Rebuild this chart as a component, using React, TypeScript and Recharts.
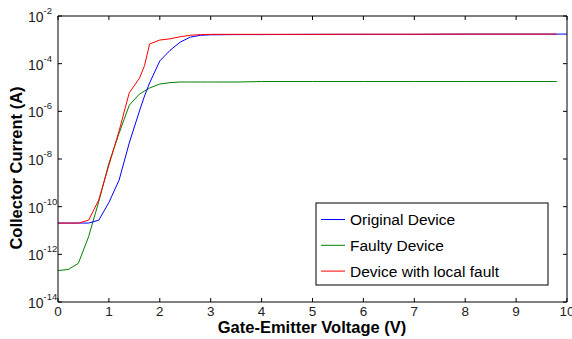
import React from 'react';
import { LineChart, Line, XAxis, YAxis } from 'recharts';

// gate-emitter voltage (V)
const voltage = [0, 0.2, 0.4, 0.6, 0.8, 1.0, 1.2, 1.4, 1.6, 1.7, 1.8, 2.0, 2.2, 2.4, 2.6, 2.8, 3.0, 3.5, 4, 5, 6, 7, 8, 9, 9.8, 10];

// collector current (A)
const originalDevice = [
  2.05e-11, 2.05e-11, 2.05e-11, 2.05e-11, 2.7e-11, 1.5e-10, 1.3e-9, 4.7e-8, 1.03e-6, 4.4e-6, 1.55e-5, 1.3e-4, 3.6e-4,
  8.0e-4, 1.3e-3, 1.55e-3, 1.62e-3, 1.66e-3, 1.66e-3, 1.7e-3, 1.7e-3, 1.7e-3, 1.74e-3, 1.74e-3, 1.74e-3, 1.74e-3,
];
const faultyDevice = [
  2.1e-13, 2.3e-13, 4.2e-13, 5.4e-12, 1.6e-10, 6.6e-9, 1.2e-7, 1.8e-6, 5.3e-6, 7.1e-6, 9.5e-6, 1.4e-5, 1.6e-5,
  1.7e-5, 1.7e-5, 1.7e-5, 1.7e-5, 1.7e-5, 1.78e-5, 1.78e-5, 1.78e-5, 1.78e-5, 1.78e-5, 1.78e-5, 1.78e-5, null,
];
const localFault = [
  2.05e-11, 2.05e-11, 2.05e-11, 2.7e-11, 1.9e-10, 5.5e-9, 1.5e-7, 6.0e-6, 2.45e-5, 8.3e-5, 6.7e-4, 9.8e-4, 1.1e-3,
  1.35e-3, 1.55e-3, 1.66e-3, 1.7e-3, 1.7e-3, 1.7e-3, 1.7e-3, 1.72e-3, 1.72e-3, 1.74e-3, 1.74e-3, 1.74e-3, null,
];

const xTicks = [0, 1, 2, 3, 4, 5, 6, 7, 8, 9, 10];
const yTicks = [1e-14, 1e-12, 1e-10, 1e-8, 1e-6, 1e-4, 1e-2];

const seriesNames = ['Original Device', 'Faulty Device', 'Device with local fault'];
const seriesColors = ['#0000ff', '#008000', '#ff0000'];

const data = voltage.map((v, i) => ({
  v,
  original: originalDevice[i],
  faulty: faultyDevice[i],
  local: localFault[i],
}));

const FONT = '"Liberation Sans", Arial, sans-serif';

const BottomTick = (props: any) => {
  const { x, y, payload } = props;
  return (
    <g>
      <line x1={x} x2={x} y1={y} y2={y - 4} stroke="#000" />
      <text x={x} y={y + 13.5} textAnchor="middle" fontSize={13.5} fontFamily={FONT} fill="#222">
        {payload.value}
      </text>
    </g>
  );
};

const TopTick = (props: any) => {
  const { x, y } = props;
  return <line x1={x} x2={x} y1={y} y2={y + 4} stroke="#000" />;
};

// labels are left aligned, like the original figure
const LeftTick = (props: any) => {
  const { x, y, payload } = props;
  const exp = Math.round(Math.log10(payload.value));
  return (
    <g>
      <line x1={x} x2={x + 4} y1={y} y2={y} stroke="#000" />
      <text x={x - 30} y={y + 6} textAnchor="start" fontSize={14} fontFamily={FONT} fill="#222">
        10
        <tspan dy={-8} fontSize={9.5}>
          {exp}
        </tspan>
      </text>
    </g>
  );
};

const RightTick = (props: any) => {
  const { x, y } = props;
  return <line x1={x - 4} x2={x} y1={y} y2={y} stroke="#000" />;
};

export default function App() {
  return (
    <div style={{ position: 'absolute', left: 0, top: 0, width: 572, height: 339, background: '#fff' }}>
      <LineChart width={572} height={339} data={data} margin={{ top: 0, right: 0, bottom: 0, left: 0 }}>
        <XAxis
          dataKey="v"
          type="number"
          domain={[0, 10]}
          ticks={xTicks}
          height={37}
          tickSize={0}
          tickMargin={0}
          tickLine={false}
          axisLine={{ stroke: '#000' }}
          tick={<BottomTick />}
          interval={0}
        />
        <XAxis
          xAxisId="top"
          orientation="top"
          dataKey="v"
          type="number"
          domain={[0, 10]}
          ticks={xTicks}
          height={16}
          tickSize={0}
          tickMargin={0}
          tickLine={false}
          axisLine={{ stroke: '#000' }}
          tick={<TopTick />}
          interval={0}
        />
        <YAxis
          scale="log"
          domain={[1e-14, 1e-2]}
          allowDataOverflow
          ticks={yTicks}
          width={58}
          tickSize={0}
          tickMargin={0}
          tickLine={false}
          axisLine={{ stroke: '#000' }}
          tick={<LeftTick />}
          interval={0}
        />
        <YAxis
          yAxisId="right"
          orientation="right"
          scale="log"
          domain={[1e-14, 1e-2]}
          allowDataOverflow
          ticks={yTicks}
          width={5}
          tickSize={0}
          tickMargin={0}
          tickLine={false}
          axisLine={{ stroke: '#000' }}
          tick={<RightTick />}
          interval={0}
        />
        <Line type="linear" dataKey="faulty" stroke={seriesColors[1]} strokeWidth={1} dot={false} isAnimationActive={false} />
        <Line type="linear" dataKey="original" stroke={seriesColors[0]} strokeWidth={1} dot={false} isAnimationActive={false} />
        <Line type="linear" dataKey="local" stroke={seriesColors[2]} strokeWidth={1} dot={false} isAnimationActive={false} />
      </LineChart>

      <svg width={572} height={339} style={{ position: 'absolute', left: 0, top: 0, pointerEvents: 'none' }}>
        <text
          x={0}
          y={0}
          transform="translate(22,168) rotate(-90)"
          textAnchor="middle"
          fontSize={16.5}
          fontWeight="bold"
          fontFamily={FONT}
          fill="#000"
        >
          Collector Current (A)
        </text>
        <text x={312} y={333} textAnchor="middle" fontSize={16.5} fontWeight="bold" fontFamily={FONT} fill="#000">
          Gate-Emitter Voltage (V)
        </text>
        <rect x={316} y={203} width={232} height={82} fill="#fff" stroke="#000" strokeWidth={1} />
        {seriesNames.map((name, i) => (
          <g key={name}>
            <line x1={321} x2={345} y1={219.5 + i * 25.8} y2={219.5 + i * 25.8} stroke={seriesColors[i]} strokeWidth={1} />
            <text x={350} y={225 + i * 25.8} fontSize={15.5} fontFamily={FONT} fill="#000">
              {name}
            </text>
          </g>
        ))}
      </svg>
    </div>
  );
}
